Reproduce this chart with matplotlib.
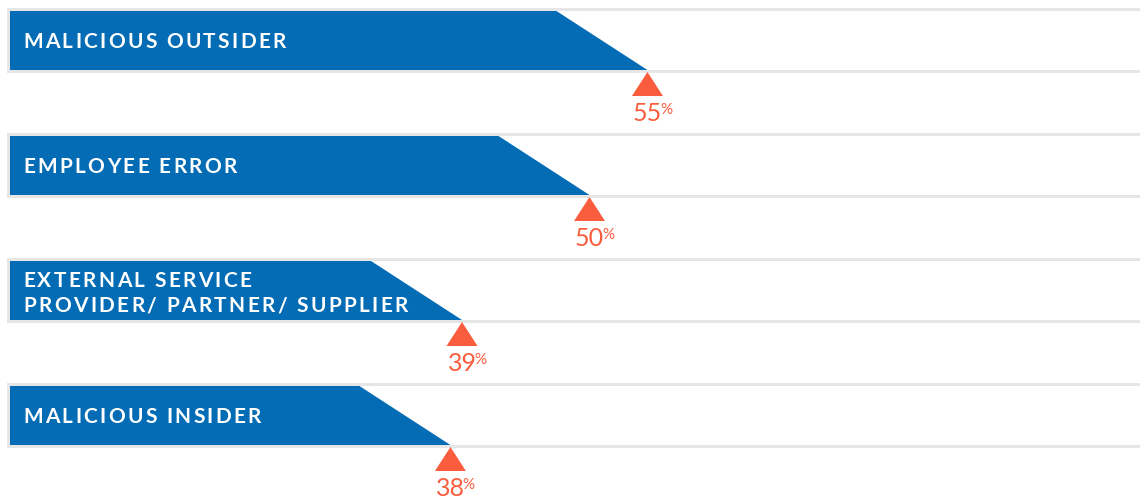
import matplotlib
matplotlib.use("Agg")
import matplotlib.pyplot as plt
from matplotlib.patches import Polygon, Rectangle
from matplotlib.font_manager import FontProperties, findfont, get_font
from matplotlib.transforms import offset_copy

# data
categories = ["MALICIOUS OUTSIDER", "EMPLOYEE ERROR",
              "EXTERNAL SERVICE\nPROVIDER/ PARTNER/ SUPPLIER", "MALICIOUS INSIDER"]
values = [55, 50, 39, 38]

BLUE = "#036cb5"
ORANGE = "#fa5d3d"
GRAY = "#e6e6e6"

W, H = 1140, 498
fig = plt.figure(figsize=(W / 100, H / 100), dpi=100)
ax = fig.add_axes([0, 0, 1, 1])
px = 11.59          # pixels per percent point
left = 10           # pixel where 0% sits
ax.set_xlim(-left / px, (W - left) / px)
ax.set_ylim(H, 0)   # y in pixels, top down
ax.axis("off")

label_fp = FontProperties(family="Lato", weight="bold", size=15)
font = get_font(findfont(label_fp))
font.set_size(15, fig.dpi)
tracking = 2.3      # extra pixels between letters


def spaced_text(x, y, s):
    dx = 0.0
    for ch in s:
        tr = offset_copy(ax.transData, fig=fig, x=dx, y=0, units="dots")
        ax.text(x, y, ch, transform=tr, fontproperties=label_fp,
                color="white", ha="left", va="baseline")
        g = font.load_char(ord(ch))
        dx += g.linearHoriAdvance / 65536 + tracking


slant = 91 / px
half_tri = 15.5 / px
row_gap = 125

for i, (cat, v) in enumerate(zip(categories, values)):
    top = 8 + row_gap * i
    # grey frame + white inner band
    ax.add_patch(Rectangle((-3 / px, top), 200, 65, facecolor=GRAY, edgecolor="none"))
    ax.add_patch(Rectangle((0, top + 3), 200, 59, facecolor="white", edgecolor="none"))
    # blue slanted bar
    ax.add_patch(Polygon([(0, top + 3), (v - slant, top + 3), (v, top + 62), (0, top + 62)],
                         closed=True, facecolor=BLUE, edgecolor="none"))
    # labels
    lines = cat.split("\n")
    mid = top + 32.5
    if len(lines) == 1:
        spaced_text(13 / px, mid + 7.5, lines[0])
    else:
        spaced_text(13 / px, mid - 3.5, lines[0])
        spaced_text(13 / px, mid + 21.5, lines[1])
    # marker
    ax.add_patch(Polygon([(v, top + 64), (v - half_tri, top + 88), (v + half_tri, top + 88)],
                         closed=True, facecolor=ORANGE, edgecolor="none"))
    base = top + 113
    t = ax.text(v, base, f"{v}", ha="center", va="baseline", family="Lato",
                fontsize=18, color=ORANGE)
    ax.annotate("%", xy=(1, base - 7.5), xycoords=(t, "data"), xytext=(-1.5, 0),
                textcoords="offset points", ha="left", va="baseline",
                family="Lato", fontsize=11, color=ORANGE)

fig.savefig("out.png", dpi=100, facecolor="white")
